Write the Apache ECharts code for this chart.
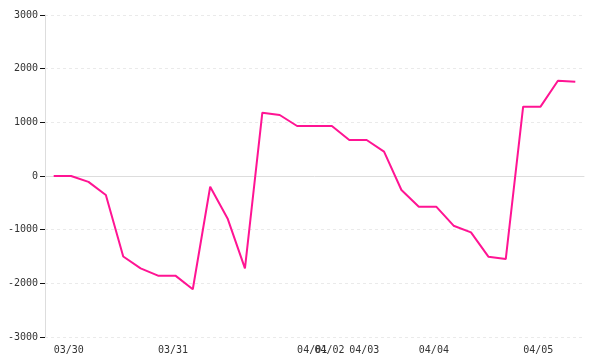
<!DOCTYPE html>
<html>
<head>
<meta charset="utf-8">
<script src="https://cdn.jsdelivr.net/npm/echarts@6/dist/echarts.min.js"></script>
<style>html,body{margin:0;padding:0;background:#fff}#c{width:600px;height:360px}</style>
</head>
<body>
<div id="c"></div>
<script>
var categories = ['03/30','03/30','03/30','03/30','03/30','03/30',
  '03/31','03/31','03/31','03/31','03/31','03/31','03/31','03/31',
  '04/01',
  '04/02','04/02',
  '04/03','04/03','04/03','04/03',
  '04/04','04/04','04/04','04/04','04/04','04/04',
  '04/05','04/05','04/05','04/05'];
var values = [0, 0, -110, -355, -1500, -1720, -1857, -1857, -2110, -200, -790, -1720, 1180, 1137,
  932, 932, 932, 670, 670, 453, -261, -572, -572, -926, -1050, -1503, -1547, 1292, 1292, 1776, 1757];
var yTicks = [-3000, -2000, -1000, 0, 1000, 2000, 3000];

var font = 'DejaVu Sans Mono';
var chart = echarts.init(document.getElementById('c'), null, {renderer: 'canvas'});
chart.setOption({
  animation: false,
  grid: {left: 45, right: 16, top: 15, bottom: 23},
  xAxis: [{
    type: 'category',
    data: categories,
    boundaryGap: true,
    position: 'bottom',
    axisLine: {show: true, onZero: true, lineStyle: {color: '#dddddd', width: 1}},
    axisTick: {show: false},
    axisLabel: {show: false},
    splitLine: {show: false}
  }, {
    type: 'category',
    data: categories,
    boundaryGap: true,
    position: 'bottom',
    axisLine: {show: false, onZero: false},
    axisTick: {show: false},
    splitLine: {show: false},
    axisLabel: {
      interval: function (i) { return i === 0 || categories[i] !== categories[i - 1]; },
      align: 'left',
      margin: 8,
      color: '#333',
      fontFamily: font,
      fontSize: 10,
      hideOverlap: false
    }
  }],
  yAxis: {
    type: 'value',
    min: yTicks[0],
    max: yTicks[yTicks.length - 1],
    interval: 1000,
    axisLine: {show: true, onZero: false, lineStyle: {color: '#ddd', width: 1}},
    axisTick: {show: true, length: 5, lineStyle: {color: '#111', width: 1}},
    axisLabel: {color: '#333', fontFamily: font, fontSize: 10, margin: 7,
      formatter: function (v) { return String(v); }},
    splitLine: {show: true, lineStyle: {color: '#eaeaea', type: [3, 3], width: 1}}
  },
  series: [{
    type: 'line',
    xAxisIndex: 0,
    data: values,
    showSymbol: false,
    symbol: 'none',
    lineStyle: {color: '#ff1493', width: 2},
    z: 3
  }]
});
</script>
</body>
</html>
